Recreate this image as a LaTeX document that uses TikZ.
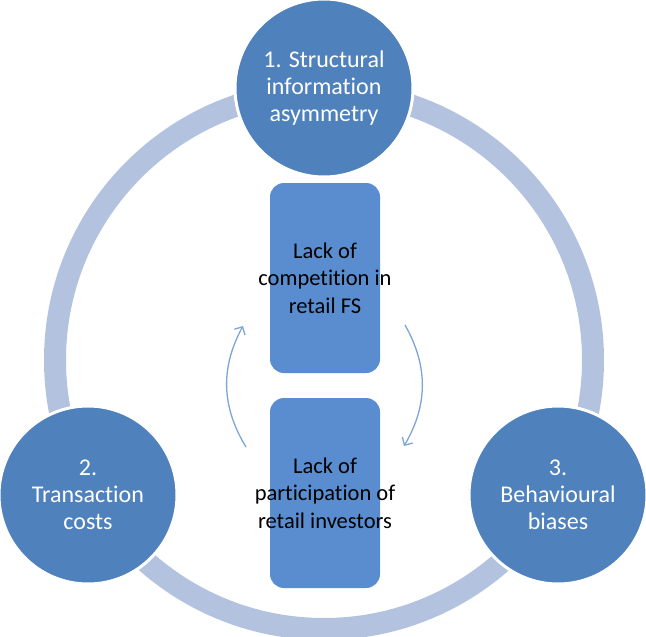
\documentclass[tikz,border=0pt]{standalone}
\usepackage{fontspec}
\setmainfont{Carlito}[Ligatures=NoCommon]
\usepackage{tikz}
\usetikzlibrary{arrows.meta,positioning}
\definecolor{CircBlue}{HTML}{4F81BD}
\definecolor{BoxBlue}{HTML}{5A8DCF}
\definecolor{RingBlue}{HTML}{B3C2DE}
\definecolor{ArcBlue}{HTML}{7DA5D8}

\begin{document}
\begin{tikzpicture}[x=1pt, y=-1pt, font=\fontsize{22.5}{27.5}\selectfont, >={Straight Barb[length=6pt,width=12pt]}]
\tikzset{factor/.style={circle, fill=CircBlue, draw=white, line width=3pt, minimum size=178pt, inner sep=0pt, align=center, text=white, font=\fontsize{24}{27}\selectfont}, lackbox/.style={rectangle, fill=BoxBlue, rounded corners=14pt, minimum width=110pt, minimum height=190pt, inner sep=0pt}, lacktext/.style={align=center, text=black, inner sep=0pt}, loop/.style={->, ArcBlue, line width=1.3pt}}
\useasboundingbox (0,0) rectangle (646,637);
\fill[white] (0,0) rectangle (646,637);
\draw[RingBlue, line width=22pt] (324,360) circle (269pt);
\node[factor] (struct) at (324,88) {1. Structural\\information\\asymmetry};
\node[factor] (trans) at (88,495) {2.\\Transaction\\costs};
\node[factor] (behav) at (558,495) {3.\\Behavioural\\biases};
\node[lackbox] (comp) at (325,278) {};
\node[lacktext] (comptxt) at (comp) {Lack of\\competition in\\retail FS};
\node[lackbox] (part) at (325,493) {};
\node[lacktext] (parttxt) at (part) {Lack of\\participation of\\retail investors};
\coordinate (lbot) at (246,447); \coordinate (ltop) at (243,326);
\coordinate (rtop) at (405,325); \coordinate (rbot) at (404,446);
\draw[loop] (lbot) to[bend left=30] (ltop);
\draw[loop] (rtop) to[bend left=30] (rbot);
\end{tikzpicture}
\end{document}
